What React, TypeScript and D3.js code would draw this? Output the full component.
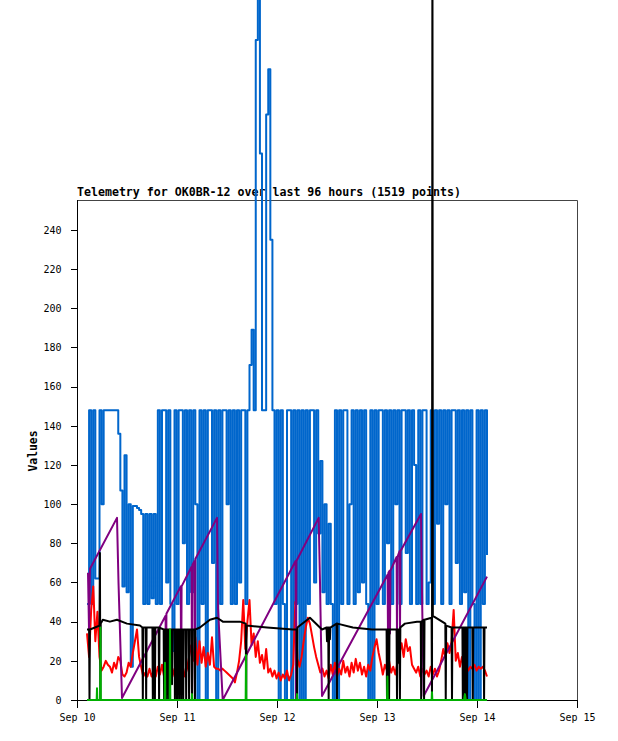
import { useEffect, useRef } from 'react';
import * as d3 from 'd3';

// Hours since Sep 10 00:00 (UTC) of the first sample, spacing of the dense series
const firstHour = 2.4;
const stepHours = 0.5;

const titleText = 'Telemetry for OK0BR-12 over last 96 hours (1519 points)';
const yLabel = 'Values';
const xTickDays = [10, 11, 12, 13, 14, 15];
const yTickValues = [0, 20, 40, 60, 80, 100, 120, 140, 160, 180, 200, 220, 240];

// Blue channel, one value per step (held until the next sample)
const blueValues = [
  49, 148, 49, 148, 62, 62, 148, 100, 148, 148,
  148, 148, 148, 148, 148, 136, 107, 58, 125, 55,
  100, 17, 99, 99, 98, 97, 95, 49, 95, 49,
  95, 52, 95, 49, 148, 49, 148, 148, 60, 148,
  49, 25, 148, 49, 148, 148, 80, 148, 49, 148,
  55, 148, 100, 0, 148, 49, 148, 0, 148, 148,
  70, 148, 0, 148, 49, 148, 148, 100, 148, 49,
  148, 49, 148, 60, 148, 148, 49, 148, 171, 189,
  148, 337, 360, 279, 148, 148, 299, 322, 235, 148,
  49, 148, 0, 148, 49, 0, 148, 148, 0, 148,
  49, 148, 0, 148, 0, 148, 49, 148, 148, 60,
  148, 85, 122, 55, 100, 49, 90, 49, 0, 148,
  0, 148, 49, 148, 148, 49, 100, 148, 49, 148,
  55, 148, 60, 148, 49, 0, 148, 0, 148, 49,
  148, 148, 49, 148, 80, 148, 49, 148, 100, 148,
  49, 148, 148, 75, 148, 49, 148, 120, 49, 148,
  49, 148, 148, 49, 60, 148, 49, 148, 90, 148,
  49, 148, 100, 148, 49, 148, 148, 70, 148, 49,
  148, 55, 148, 0, 148, 49, 0, 148, 0, 148,
  49, 148, 74,
];

// Red channel, one value per step
const redValues = [
  34, 22, 46, 58, 30, 45, 22, 15, 17, 20,
  18, 17, 14, 19, 16, 22, 20, 13, 12, 14,
  19, 17, 24, 30, 36, 22, 17, 12, 14, 12,
  16, 12, 15, 12, 17, 13, 18, 12, 15, 13,
  17, 12, 16, 13, 21, 13, 17, 12, 16, 22,
  28, 20, 32, 18, 30, 19, 27, 17, 24, 18,
  32, 17, 16, 16, 15, 16, 15, 14, 13, 12,
  11, 9, 14, 20, 30, 51, 26, 40, 51, 28,
  34, 22, 30, 19, 23, 16, 26, 14, 16, 12,
  15, 11, 14, 10, 13, 11, 15, 10, 13, 18,
  50, 21, 17, 22, 30, 37, 42, 39, 33, 27,
  22, 18, 14, 16, 12, 15, 11, 18, 13, 19,
  12, 16, 13, 20, 14, 17, 12, 19, 14, 21,
  15, 19, 13, 17, 12, 18, 15, 22, 27, 31,
  24, 19, 13, 18, 15, 20, 14, 17, 13, 19,
  24, 29, 22, 31, 25, 27, 18, 16, 14, 17,
  12, 16, 13, 15, 12, 17, 13, 16, 12, 15,
  20, 26, 22, 29, 24, 30, 46, 20, 24, 17,
  22, 16, 18, 15, 17, 16, 18, 15, 17, 16,
  17, 15, 12,
];

// Purple channel: [hour, value]
const purplePoints: [number, number][] = [
  [2.64, 65], [2.88, 36], [3.12, 67], [9.6, 93], [9.96, 60], [10.8, 1],
  [21.26, 43], [21.36, 0], [21.46, 44],
  [24.9, 58], [25.0, 3], [25.1, 58],
  [27.5, 68], [27.6, 2], [27.7, 69],
  [28.2, 71], [28.3, 2], [28.4, 72],
  [33.6, 93], [33.84, 47], [34.97, 0],
  [52.46, 71], [52.56, 0], [52.66, 71],
  [58.0, 93], [58.32, 60], [58.8, 2],
  [74.54, 64], [74.64, 34], [74.74, 65],
  [75.02, 66], [75.12, 34], [75.22, 66],
  [76.7, 73], [76.8, 32], [76.9, 73],
  [77.42, 76], [77.52, 34], [77.62, 76],
  [82.56, 95], [82.8, 55], [83.2, 2], [98.4, 63],
];

// Black channel: [hour, value]
const blackPoints: [number, number][] = [
  [2.4, 36], [2.9, 36], [3.0, 0], [3.1, 36], [4.3, 37], [5.4, 38], [5.5, 75], [5.6, 0], [5.7, 39],
  [6.2, 41], [7.9, 40], [9.6, 41], [12.0, 39], [15.1, 38],
  [15.7, 37], [15.8, 0], [15.9, 37],
  [16.5, 37], [16.6, 0], [16.7, 37],
  [18.1, 37], [18.2, 0], [18.3, 37],
  [18.6, 37], [18.7, 0], [18.8, 37],
  [19.6, 37], [19.7, 0], [19.8, 37],
  [20.8, 36], [20.9, 0], [21.0, 36],
  [21.3, 36], [21.4, 0], [21.5, 36],
  [21.8, 36], [21.9, 0], [22.0, 36],
  [22.7, 36], [22.8, 8], [22.9, 36],
  [23.4, 36], [23.5, 0], [23.6, 36],
  [23.9, 36], [24.0, 0], [24.1, 36],
  [24.4, 36], [24.5, 0], [24.6, 36],
  [24.9, 36], [25.0, 0], [25.1, 36],
  [25.4, 36], [25.5, 0], [25.6, 36],
  [26.1, 36], [26.2, 0], [26.3, 36],
  [26.8, 36], [26.9, 0], [27.0, 36],
  [27.5, 36], [27.6, 0], [27.7, 36],
  [28.2, 36], [28.3, 0], [28.4, 36],
  [29.5, 37], [31.9, 41], [33.6, 42], [35.0, 40], [36.7, 40], [39.1, 40],
  [40.5, 39], [40.6, 0], [40.7, 38],
  [45.6, 37], [51.8, 36],
  [52.7, 36], [52.8, 0], [52.9, 37],
  [53.5, 38], [55.9, 42], [58.8, 36],
  [59.9, 37], [60.0, 30], [60.1, 37], [60.3, 37], [60.4, 0], [60.5, 37], [60.6, 37], [60.7, 31], [60.8, 37],
  [62.3, 39], [62.4, 0], [62.5, 39],
  [66.2, 37], [70.8, 36],
  [74.3, 36], [74.4, 0], [74.5, 36], [74.8, 36], [74.9, 0], [75.0, 36],
  [76.7, 36], [76.8, 0], [76.9, 36], [77.1, 36], [77.2, 19], [77.3, 36], [77.4, 36], [77.5, 0], [77.6, 37],
  [78.7, 39], [81.6, 40],
  [82.5, 40], [82.6, 0], [82.7, 40],
  [83.2, 41], [83.3, 0], [83.4, 41],
  [85.1, 42], [85.2, 0], [85.3, 420], [85.4, 43],
  [88.4, 39], [88.5, 0], [88.6, 38],
  [89.9, 37], [90.0, 0], [90.1, 37],
  [92.5, 37], [92.6, 0], [92.7, 37], [93.0, 37], [93.1, 0], [93.2, 37], [93.5, 37], [93.6, 0], [93.7, 37],
  [94.9, 37], [95.0, 0], [95.1, 37],
  [97.6, 37], [97.7, 0], [97.8, 37],
  [98.4, 37],
];

// Green channel: [hour, value]
const greenPoints: [number, number][] = [
  [2.4, 0], [4.72, 0], [4.8, 6], [4.88, 0], [5.56, 0], [5.64, 37], [5.72, 0],
  [21.04, 0], [21.12, 19], [21.2, 0], [22.24, 0], [22.32, 36], [22.4, 0],
  [27.52, 0], [27.6, 3], [27.68, 0], [40.48, 0], [40.56, 23], [40.64, 0],
  [52.72, 0], [52.8, 3], [52.88, 0], [74.42, 0], [74.5, 12], [74.58, 0],
  [85.12, 0], [85.2, 4], [85.28, 0], [92.9, 0], [93.1, 3], [93.3, 0], [98.4, 0],
];

const baseTime = Date.UTC(2023, 8, 10);
const hourToDate = (h: number) => new Date(baseTime + h * 3600 * 1000);

function TelemetryChart() {
  const ref = useRef<SVGSVGElement>(null);

  const svgWidth = 618;
  const svgHeight = 741;

  useEffect(() => {
    getChart();
  }, []);

  function getChart() {
    const left = 77;
    const right = 577;
    const top = 200;
    const bottom = 700;
    const font = "'DejaVu Sans Mono', monospace";

    const svg = d3.select(ref.current);
    svg.selectAll('*').remove();

    const x = d3
      .scaleUtc()
      .domain([new Date(Date.UTC(2023, 8, 10)), new Date(Date.UTC(2023, 8, 15))])
      .range([left, right]);
    const y = d3.scaleLinear().domain([0, 255.3]).range([bottom, top]);

    // Title
    svg
      .append('text')
      .attr('x', left)
      .attr('y', 196)
      .attr('font-family', font)
      .attr('font-size', '11.6px')
      .attr('font-weight', 'bold')
      .text(titleText);

    // Y axis label
    svg
      .append('text')
      .attr('transform', 'translate(37, 451) rotate(-90)')
      .attr('text-anchor', 'middle')
      .attr('font-family', font)
      .attr('font-size', '11.4px')
      .attr('font-weight', 'bold')
      .text(yLabel);

    // Frame: top and right in grey
    svg
      .append('path')
      .attr('d', `M${left},${top + 0.5}H${right + 0.5}V${bottom}`)
      .attr('fill', 'none')
      .attr('stroke', '#444');

    // Y axis
    const yAxis = svg
      .append('g')
      .attr('transform', `translate(${left + 0.5}, 0)`)
      .call(
        d3
          .axisLeft(y)
          .tickValues(yTickValues)
          .tickSize(7)
          .tickSizeOuter(0)
          .tickPadding(9)
      );
    yAxis.select('.domain').remove();
    yAxis
      .append('line')
      .attr('y1', top)
      .attr('y2', bottom + 1)
      .attr('stroke', '#000');

    // X axis
    const xAxis = svg
      .append('g')
      .attr('transform', `translate(0, ${bottom + 0.5})`)
      .call(
        d3
          .axisBottom(x)
          .tickValues(xTickDays.map((d) => new Date(Date.UTC(2023, 8, d))))
          .tickFormat((d) => d3.utcFormat('%b %d')(d as Date))
          .tickSize(7)
          .tickSizeOuter(0)
          .tickPadding(6)
      );
    xAxis.select('.domain').remove();
    xAxis
      .append('line')
      .attr('x1', left)
      .attr('x2', right + 1)
      .attr('stroke', '#000');

    svg
      .selectAll('.tick text')
      .attr('font-family', font)
      .attr('font-size', '10px')
      .attr('fill', '#000');
    svg.selectAll('.tick line').attr('stroke', '#000').attr('shape-rendering', 'crispEdges');

    // Lines: blue is drawn as held samples, the others straight
    const line = d3
      .line<[number, number]>()
      .x((d) => x(hourToDate(d[0])))
      .y((d) => y(d[1]));
    const stepLine = d3
      .line<[number, number]>()
      .x((d) => x(hourToDate(d[0])))
      .y((d) => y(d[1]))
      .curve(d3.curveStepAfter);

    const blueData = blueValues.map((v, i) => [firstHour + i * stepHours, v] as [number, number]);
    const redData = redValues.map((v, i) => [firstHour + i * stepHours, v] as [number, number]);

    const series: { data: [number, number][]; color: string; step: boolean }[] = [
      { data: blueData, color: '#0066cc', step: true },
      { data: redData, color: '#ff0000', step: false },
      { data: purplePoints, color: '#800080', step: false },
      { data: blackPoints, color: '#000000', step: false },
      { data: greenPoints, color: '#00b000', step: false },
    ];

    series.forEach((s) => {
      svg
        .append('path')
        .attr('d', (s.step ? stepLine : line)(s.data))
        .attr('fill', 'none')
        .attr('stroke', s.color)
        .attr('stroke-width', 2)
        .attr('stroke-linejoin', 'round');
    });
  }

  return (
    <svg
      ref={ref}
      width={svgWidth}
      height={svgHeight}
      style={{ position: 'absolute', left: 0, top: 0, background: '#fff' }}
    ></svg>
  );
}

export default function App() {
  return <TelemetryChart />;
}
